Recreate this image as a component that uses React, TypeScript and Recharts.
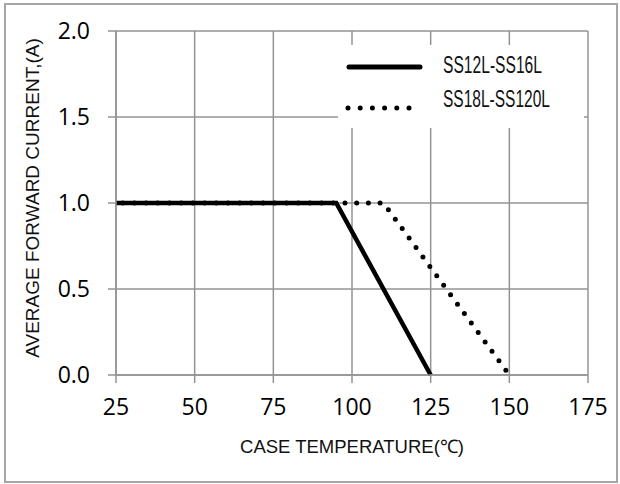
import React from 'react';
import { LineChart, Line, XAxis, YAxis, CartesianGrid, Legend } from 'recharts';

// 管壳温度 (℃)
const tempSolid = [25, 95, 125];
const currentSolid = [1.0, 1.0, 0.0];
const tempDotted = [25, 110, 150];
const currentDotted = [1.0, 1.0, 0.0];

const xTicks = [25, 50, 75, 100, 125, 150, 175];
const yTicks = [0, 0.5, 1.0, 1.5, 2.0];

const seriesNames = ['SS12L-SS16L', 'SS18L-SS120L'];

const solidData = tempSolid.map((t, i) => ({ t, v: currentSolid[i] }));
const dottedData = tempDotted.map((t, i) => ({ t, v: currentDotted[i] }));

const GRID = '#939393';
const TICK_FONT = '"Open Sans", Lato, sans-serif';
const TITLE_FONT = '"Liberation Sans", Arial, sans-serif';
const LEGEND_FONT = '"Liberation Sans Narrow", "Liberation Sans", sans-serif';

// 图例框：白底盖住网格线，文字压窄
const LegendBox = () => (
  <svg width={280} height={83} style={{ display: 'block', overflow: 'visible' }}>
    <rect x={0} y={0} width={246} height={83} fill="#fff" />
    <line x1={11} y1={22} x2={82} y2={22} stroke="#000" strokeWidth={5} strokeLinecap="round" />
    <text x={105} y={20} dy="0.36em" fontSize={23} fontFamily={LEGEND_FONT} fill="#111" textLength={99} lengthAdjust="spacingAndGlyphs">
      {seriesNames[0]}
    </text>
    <line x1={10} y1={63} x2={72} y2={63} stroke="#000" strokeWidth={5} strokeLinecap="round" strokeDasharray="0 12.2" />
    <text x={105} y={54} dy="0.36em" fontSize={23} fontFamily={LEGEND_FONT} fill="#111" textLength={107} lengthAdjust="spacingAndGlyphs">
      {seriesNames[1]}
    </text>
  </svg>
);

export default function App() {
  return (
    <div style={{ position: 'absolute', left: 0, top: 0, width: 620, height: 484, background: '#fff' }}>
      <div
        style={{
          position: 'absolute',
          left: 4,
          top: 3,
          width: 610,
          height: 476,
          border: '2px solid #a6a6a6',
        }}
      />
      <LineChart width={620} height={484} margin={{ top: 31, right: 32, bottom: 0, left: 0 }}>
        <CartesianGrid stroke={GRID} strokeWidth={1.5} horizontalValues={yTicks} verticalValues={xTicks} />
        <XAxis
          type="number"
          dataKey="t"
          domain={[25, 175]}
          ticks={xTicks}
          height={109}
          stroke={GRID}
          strokeWidth={1.5}
          tickSize={8}
          tickMargin={16}
          tick={{ fill: '#000', fontSize: 23, fontFamily: TICK_FONT }}
          allowDuplicatedCategory={false}
          label={{
            content: () => (
              <text x={352} y={446} textAnchor="middle" dominantBaseline="central" fontSize={18.5} fontFamily={TITLE_FONT} fill="#111">
                CASE TEMPERATURE(℃)
              </text>
            ),
          }}
        />
        <YAxis
          type="number"
          domain={[0, 2]}
          ticks={yTicks}
          width={116}
          stroke={GRID}
          strokeWidth={1.5}
          tickSize={8}
          tickMargin={18}
          tickFormatter={(v: number) => v.toFixed(1)}
          tick={{ fill: '#000', fontSize: 23, fontFamily: TICK_FONT }}
          label={{
            content: () => (
              <text
                x={32}
                y={198}
                transform="rotate(-90 32 198)"
                textAnchor="middle"
                dominantBaseline="central"
                fontSize={19}
                fontFamily={TITLE_FONT}
                fill="#111"
              >
                AVERAGE FORWARD CURRENT,(A)
              </text>
            ),
          }}
        />
        <Legend
          layout="horizontal"
          verticalAlign="middle"
          align="center"
          content={() => <LegendBox />}
          wrapperStyle={{ left: 338, top: 45, width: 280, height: 83 }}
        />
        <Line
          data={dottedData}
          dataKey="v"
          name={seriesNames[1]}
          type="linear"
          stroke="#000"
          strokeWidth={5}
          strokeLinecap="round"
          strokeDasharray="0 11.7"
          strokeDashoffset={5}
          dot={false}
          activeDot={false}
          isAnimationActive={false}
        />
        <Line
          data={solidData}
          dataKey="v"
          name={seriesNames[0]}
          type="linear"
          stroke="#000"
          strokeWidth={4.5}
          dot={false}
          activeDot={false}
          isAnimationActive={false}
        />
      </LineChart>
    </div>
  );
}
